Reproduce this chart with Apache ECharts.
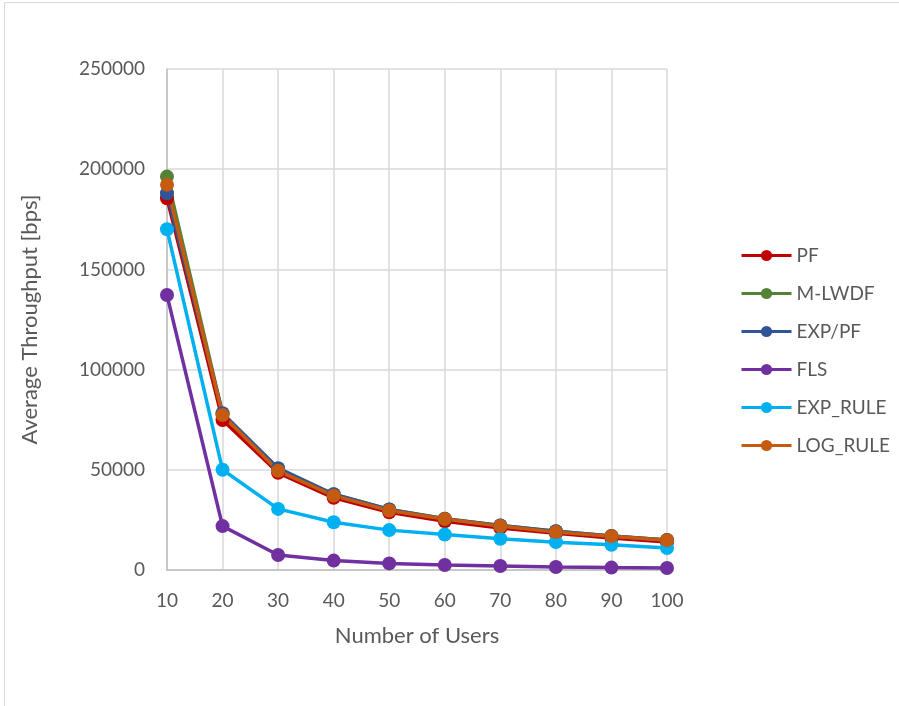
<!DOCTYPE html>
<html>
<head>
<meta charset="utf-8">
<script src="https://cdn.jsdelivr.net/npm/echarts@6/dist/echarts.min.js"></script>
<style>
  html, body { margin: 0; padding: 0; background: #fff; }
  #chart { width: 899px; height: 706px; }
</style>
</head>
<body>
<div id="chart"></div>
<script>
// Number of users on the horizontal axis
const users = ['10', '20', '30', '40', '50', '60', '70', '80', '90', '100'];

// Average throughput per scheduler [bps]
const pf       = [185500, 74800, 48500, 36000, 28800, 24300, 21000, 18300, 16000, 14000];
const mlwdf    = [196300, 78000, 50500, 37800, 30200, 25600, 22200, 19300, 17000, 15000];
const exppf    = [188000, 78200, 50800, 37800, 30200, 25600, 22200, 19300, 17000, 15000];
const fls      = [137200, 21900, 7500, 4700, 3300, 2500, 2000, 1500, 1200, 1000];
const expRule  = [170000, 50000, 30500, 23800, 19900, 17700, 15600, 13900, 12600, 11000];
const logRule  = [192200, 77300, 49500, 37100, 29700, 25500, 21900, 18900, 16900, 14900];

const seriesNames = ['PF', 'M-LWDF', 'EXP/PF', 'FLS', 'EXP_RULE', 'LOG_RULE'];
const seriesData = [pf, mlwdf, exppf, fls, expRule, logRule];
const seriesColors = ['#C00000', '#548235', '#2F5597', '#7030A0', '#00B0F0', '#C55A11'];

const FONT = 'Lato, "Open Sans", sans-serif';
const TEXT = '#595959';

const chart = echarts.init(document.getElementById('chart'), null, { renderer: 'canvas' });

chart.setOption({
  animation: false,
  backgroundColor: '#ffffff',
  graphic: [{
    type: 'rect',
    shape: { x: 4.5, y: 2.5, width: 1000, height: 1000 },
    style: { fill: 'none', stroke: '#d9d9d9', lineWidth: 1 },
    silent: true
  }],
  grid: { left: 167, right: 232, top: 69, bottom: 136, containLabel: false },
  legend: {
    orient: 'vertical',
    left: 735,
    top: 241,
    itemWidth: 50,
    itemHeight: 14,
    itemGap: 19,
    lineStyle: { width: 3 },
    textStyle: { fontFamily: FONT, fontSize: 19, color: TEXT },
    data: seriesNames
  },
  xAxis: {
    type: 'category',
    data: users,
    boundaryGap: false,
    name: 'Number of Users',
    nameLocation: 'middle',
    nameGap: 55,
    nameTextStyle: { fontFamily: FONT, fontSize: 22, color: TEXT },
    axisLine: { lineStyle: { color: '#bfbfbf', width: 1.5 } },
    axisTick: { show: false },
    axisLabel: { fontFamily: FONT, fontSize: 19, color: TEXT, margin: 21, interval: 0 },
    splitLine: { show: true, interval: 0, lineStyle: { color: '#d9d9d9', width: 1.5 } }
  },
  yAxis: {
    type: 'value',
    min: 0,
    max: 250000,
    interval: 50000,
    name: 'Average Throughput [bps]',
    nameLocation: 'middle',
    nameGap: 126,
    nameRotate: 90,
    nameTextStyle: { fontFamily: FONT, fontSize: 22, color: TEXT },
    axisLine: { show: true, lineStyle: { color: '#bfbfbf', width: 1.5 } },
    axisTick: { show: false },
    axisLabel: {
      fontFamily: FONT, fontSize: 19, color: TEXT, margin: 22,
      formatter: (v) => String(v)
    },
    splitLine: { lineStyle: { color: '#d9d9d9', width: 1.5 } }
  },
  series: seriesNames.map((name, i) => ({
    name: name,
    type: 'line',
    data: seriesData[i],
    color: seriesColors[i],
    symbol: 'circle',
    symbolSize: 14,
    showAllSymbol: true,
    lineStyle: { width: 3.5, color: seriesColors[i] },
    itemStyle: { color: seriesColors[i] }
  }))
});
</script>
</body>
</html>
